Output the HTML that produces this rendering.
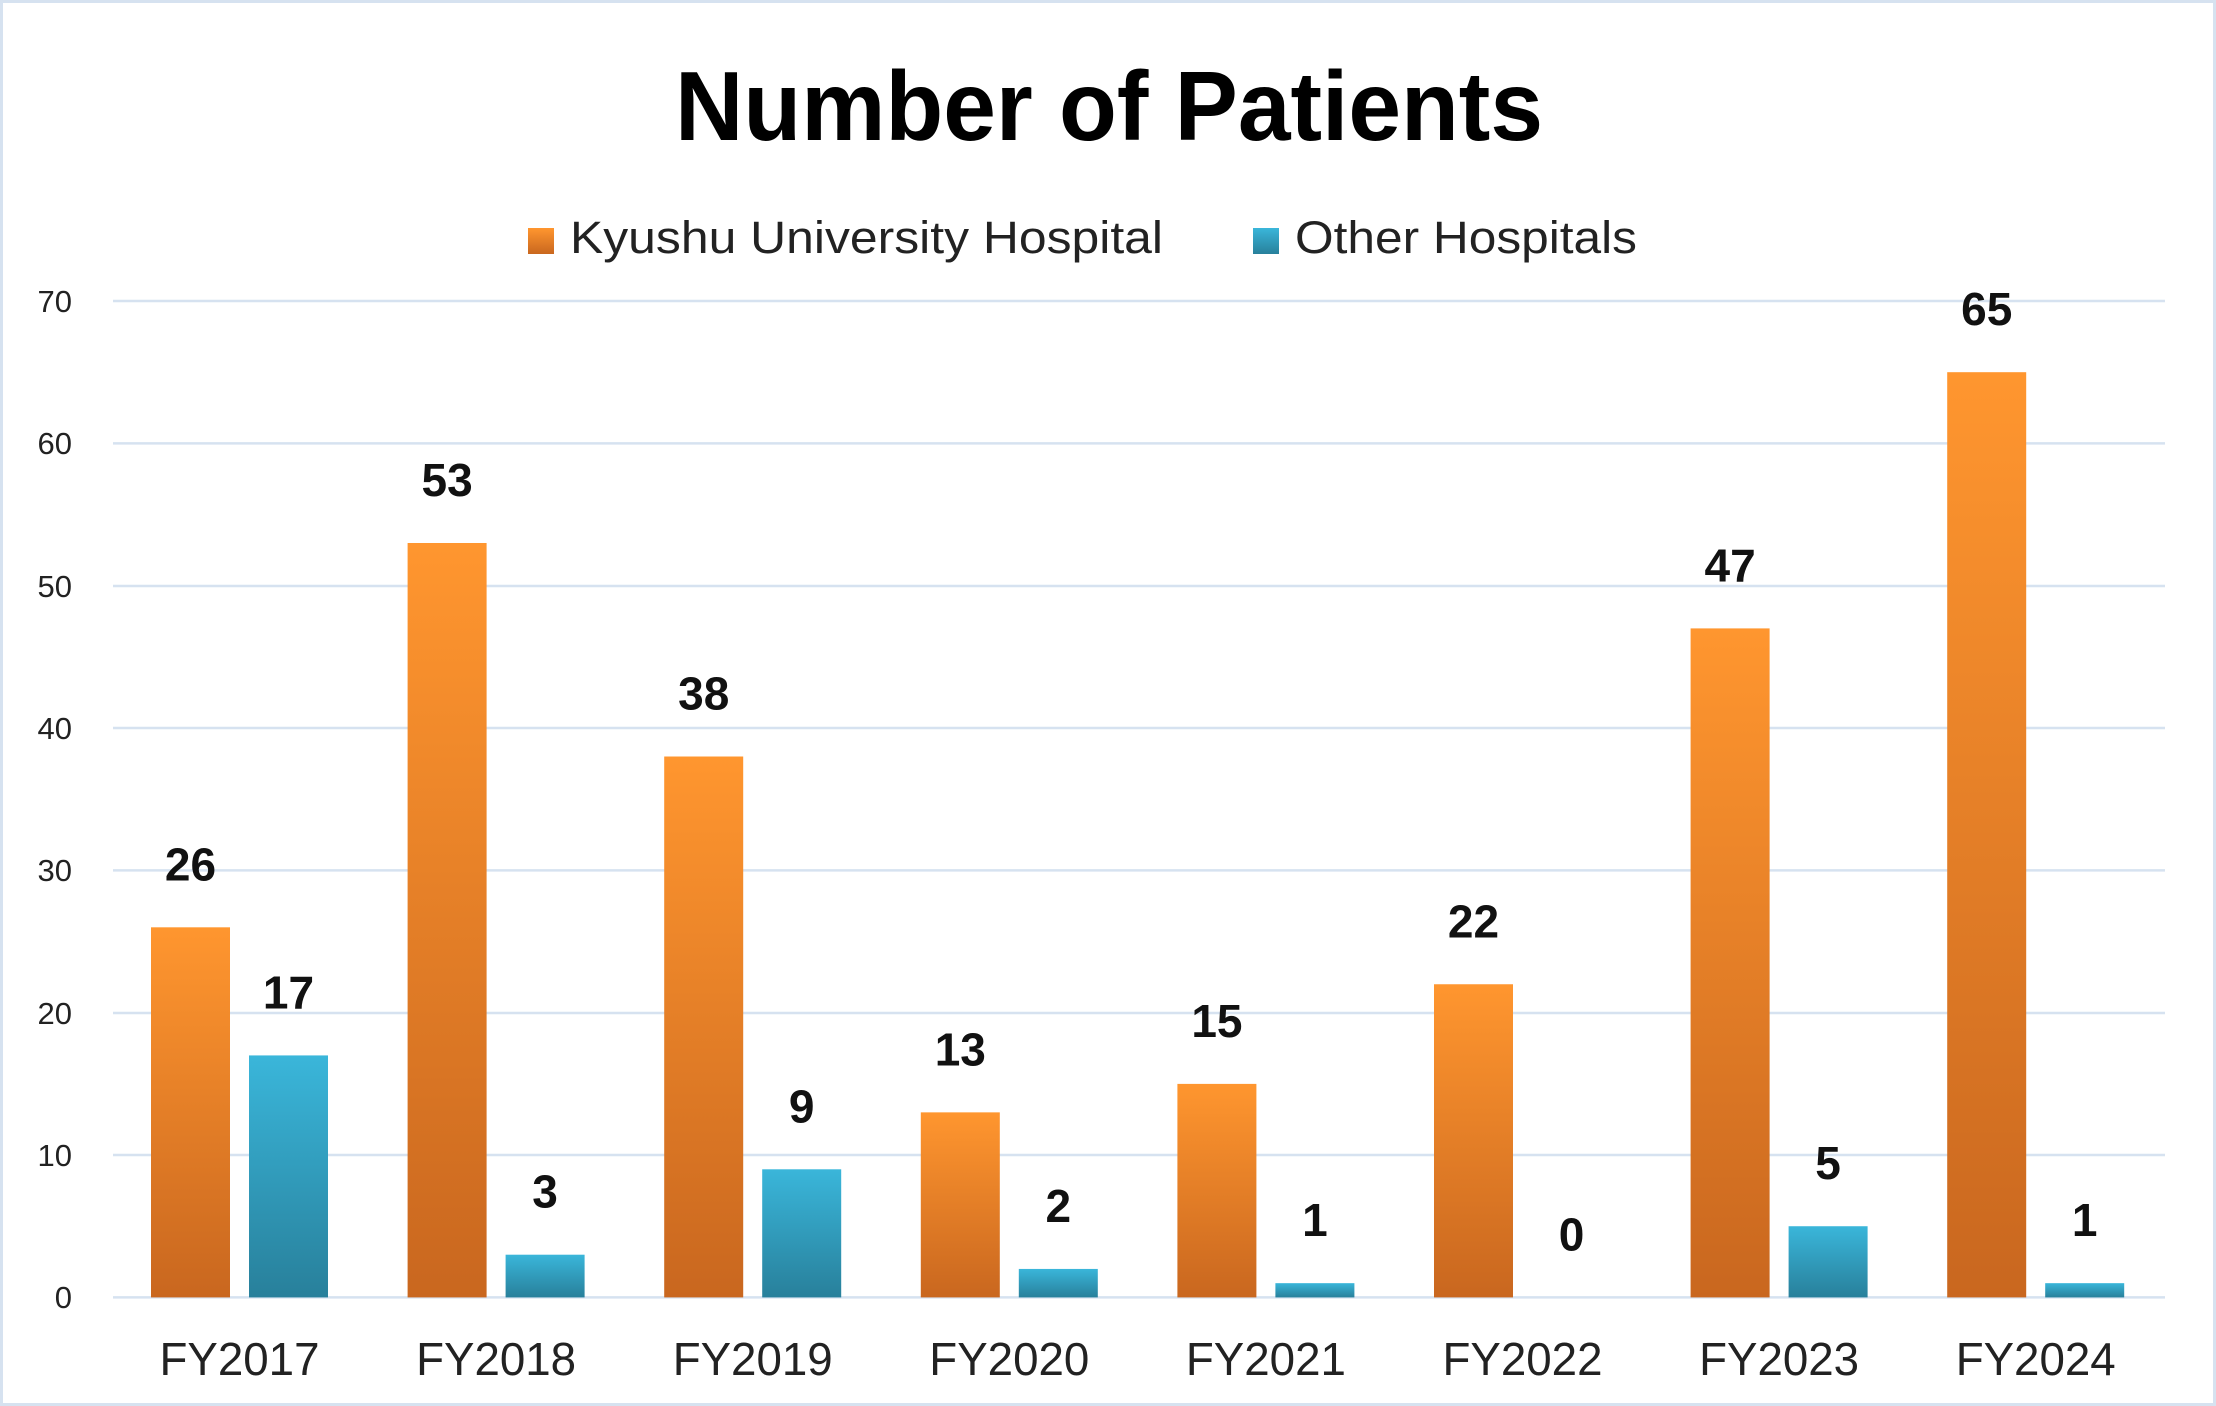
<!DOCTYPE html>
<html><head><meta charset="utf-8"><style>
html,body{margin:0;padding:0;background:#fff}
svg{display:block}
text{font-family:"Liberation Sans","Noto Sans CJK JP",sans-serif}
</style></head><body>
<svg width="2216" height="1406" viewBox="0 0 2216 1406">
<defs>
<linearGradient id="og" x1="0" y1="0" x2="0" y2="1"><stop offset="0" stop-color="#FF962F"/><stop offset="1" stop-color="#C9671F"/></linearGradient>
<linearGradient id="tg" x1="0" y1="0" x2="0" y2="1"><stop offset="0" stop-color="#3AB6DA"/><stop offset="1" stop-color="#28809B"/></linearGradient>
</defs>
<rect x="1.5" y="1.5" width="2213" height="1403" fill="#fff" stroke="#d6e2f0" stroke-width="3"/>
<text x="1109" y="140" text-anchor="middle" font-size="98" font-weight="bold" fill="#000" textLength="868" lengthAdjust="spacingAndGlyphs">Number of Patients</text>
<rect x="528" y="228" width="26" height="26" fill="url(#og)"/>
<text x="570" y="253" font-size="45" fill="#222" textLength="593" lengthAdjust="spacingAndGlyphs">Kyushu University Hospital</text>
<rect x="1253" y="228" width="26" height="26" fill="url(#tg)"/>
<text x="1295" y="253" font-size="45" fill="#222" textLength="342" lengthAdjust="spacingAndGlyphs">Other Hospitals</text>
<g stroke="#d6e2f0" stroke-width="2.5">
<line x1="113" x2="2165" y1="1297.4" y2="1297.4"/>
<line x1="113" x2="2165" y1="1155" y2="1155"/>
<line x1="113" x2="2165" y1="1013" y2="1013"/>
<line x1="113" x2="2165" y1="870.4" y2="870.4"/>
<line x1="113" x2="2165" y1="728" y2="728"/>
<line x1="113" x2="2165" y1="586" y2="586"/>
<line x1="113" x2="2165" y1="443.4" y2="443.4"/>
<line x1="113" x2="2165" y1="301" y2="301"/>
</g>
<g font-size="31" fill="#222" text-anchor="end">
<text x="72" y="1308">0</text><text x="72" y="1166">10</text><text x="72" y="1024">20</text><text x="72" y="881">30</text><text x="72" y="739">40</text><text x="72" y="597">50</text><text x="72" y="454">60</text><text x="72" y="312">70</text>
</g>
<g id="bars"></g>
</svg>
<script>
var o=[26,53,38,13,15,22,47,65],t=[17,3,9,2,1,0,5,1];
var g=document.getElementById('bars'),h='';
var base=1297.4,u=14.234;
for(var i=0;i<8;i++){
 var x=151+i*256.6;
 function bar(xx,v,f){var top=base-v*u;
  if(v>0)h+='<rect x="'+xx+'" y="'+top+'" width="79" height="'+(v*u)+'" fill="url(#'+f+')"/>';
  h+='<text x="'+(xx+39.5)+'" y="'+(top-47)+'" text-anchor="middle" font-size="46" font-weight="bold" fill="#111">'+v+'</text>';}
 bar(x,o[i],'og');bar(x+98,t[i],'tg');
 h+='<text x="'+(x+88.5)+'" y="1375" text-anchor="middle" font-size="46" fill="#222" textLength="160" lengthAdjust="spacingAndGlyphs">FY'+(2017+i)+'</text>';
}
g.innerHTML=h;
</script>
</body></html>
